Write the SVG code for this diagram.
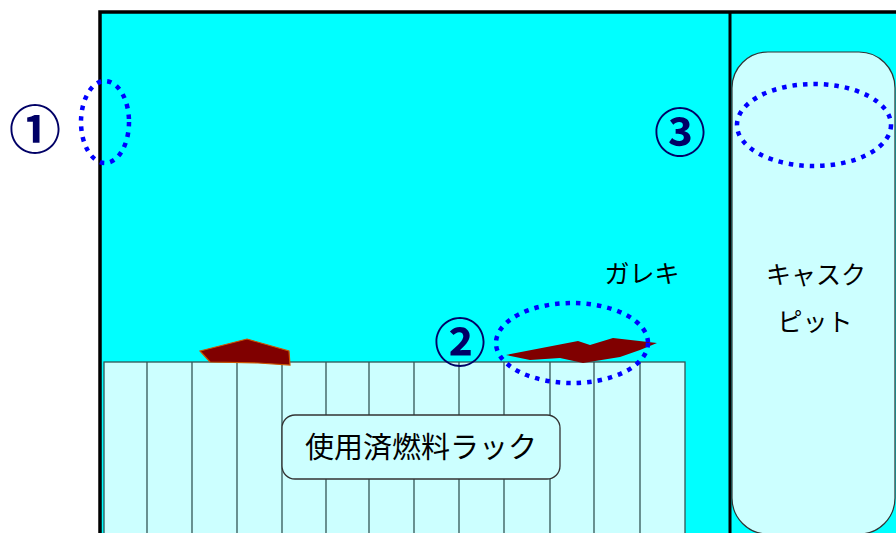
<svg xmlns="http://www.w3.org/2000/svg" width="896" height="533" viewBox="0 0 896 533">
<style>
.lbl{font-family:"Noto Sans CJK JP","Noto Sans",sans-serif;fill:#000;text-anchor:middle}
.num{font-family:"Noto Sans CJK JP","DejaVu Sans",sans-serif;fill:#000066;text-anchor:middle;font-size:52px;font-weight:700}
.dot{fill:none;stroke:#0000FF;stroke-width:4.5;stroke-dasharray:4.5 6}
.col{stroke:#335555;stroke-width:1.3}
.debris{fill:#800000}
</style>
<rect width="896" height="533" fill="#fff"/>
<g id="pool">
<rect x="100" y="12" width="830" height="560" fill="#00FFFF" stroke="#000" stroke-width="3.5"/>
<line x1="730" y1="12" x2="730" y2="533" stroke="#000" stroke-width="3"/>
</g>
<g id="cask-pit">
<rect x="732" y="52" width="163" height="482" rx="36" ry="36" fill="#CCFFFF" stroke="#333" stroke-width="1.2"/>
<text class="lbl" x="816" y="284" font-size="25">キャスク</text>
<text class="lbl" x="815" y="331" font-size="25">ピット</text>
</g>
<g id="rack">
<rect x="104" y="362" width="581" height="180" fill="#CCFFFF" stroke="#335555" stroke-width="1.3"/>
<g class="col">
<line x1="147" y1="362" x2="147" y2="533"/>
<line x1="192" y1="362" x2="192" y2="533"/>
<line x1="237" y1="362" x2="237" y2="533"/>
<line x1="282" y1="362" x2="282" y2="533"/>
<line x1="326" y1="362" x2="326" y2="533"/>
<line x1="369" y1="362" x2="369" y2="533"/>
<line x1="414" y1="362" x2="414" y2="533"/>
<line x1="459" y1="362" x2="459" y2="533"/>
<line x1="504" y1="362" x2="504" y2="533"/>
<line x1="550" y1="362" x2="550" y2="533"/>
<line x1="594" y1="362" x2="594" y2="533"/>
<line x1="640" y1="362" x2="640" y2="533"/>
</g>
</g>
<g id="rack-label">
<rect x="282" y="415" width="278" height="64" rx="13" ry="13" fill="#CCFFFF" stroke="#333" stroke-width="1.3"/>
<text class="lbl" x="421" y="458" font-size="29">使用済燃料ラック</text>
</g>
<g id="debris1">
<polygon class="debris" points="200,351 247,339 289,351 290,365 258,363 210,362" stroke="#CC5500" stroke-width="1.2"/>
</g>
<g id="debris2">
<polygon class="debris" points="506,355 578,341 590,345 613,338 657,343 640,350 620,357 583,363 560,358 530,360"/>
<text class="lbl" x="642" y="283" font-size="25">ガレキ</text>
</g>
<g id="marker1">
<ellipse class="dot" cx="105" cy="122" rx="24" ry="41"/>
<text class="num" x="35" y="149">①</text>
</g>
<g id="marker2">
<ellipse class="dot" cx="572" cy="343" rx="76" ry="40"/>
<text class="num" x="460" y="362">②</text>
</g>
<g id="marker3">
<ellipse class="dot" cx="814" cy="125" rx="77" ry="41"/>
<text class="num" x="680" y="152">③</text>
</g>
</svg>
